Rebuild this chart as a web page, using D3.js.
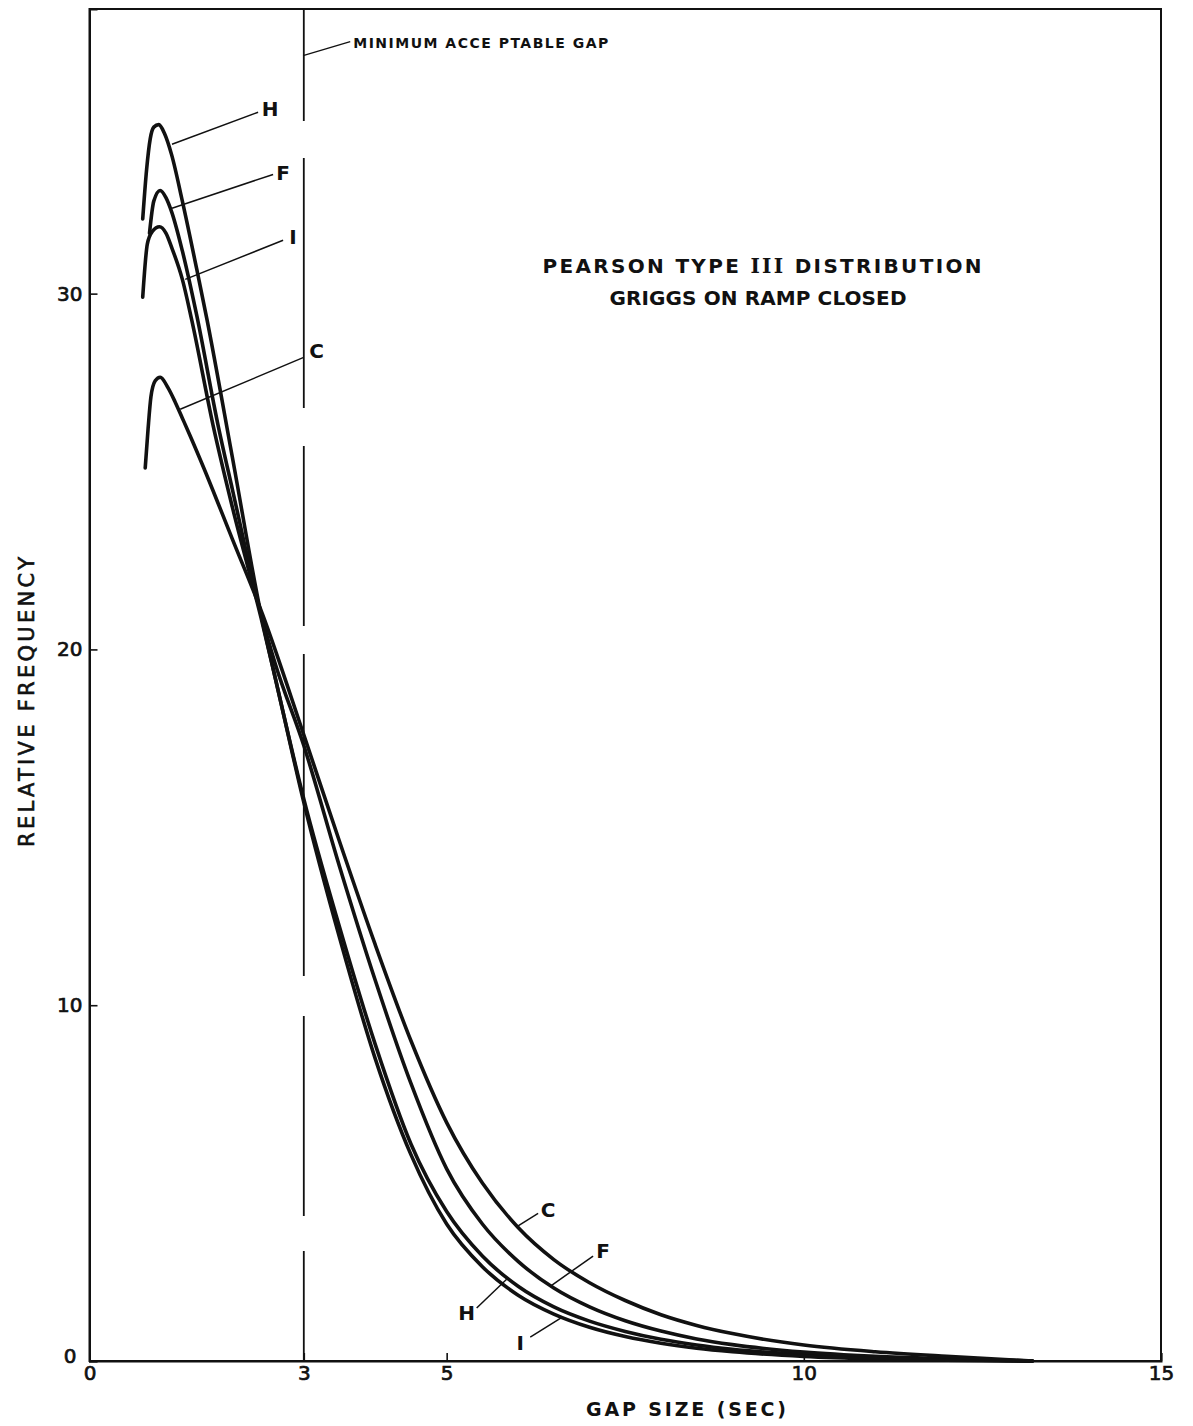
<!DOCTYPE html>
<html>
<head>
<meta charset="utf-8">
<script src="https://cdnjs.cloudflare.com/ajax/libs/d3/7.8.5/d3.min.js"></script>
<style>
  html, body { margin: 0; padding: 0; background: #fff; }
  svg { display: block; }
  text { font-family: "DejaVu Sans", "Liberation Sans", sans-serif; fill: #111; }
</style>
</head>
<body>
<svg id="chart" width="1193" height="1426"></svg>
<script>
// ---------------- data ----------------
const xTicks = [0, 3, 5, 10, 15];
const yTicks = [0, 10, 20, 30];
const minimumGap = 3;

const gapH  = [0.745, 0.8, 0.85, 0.9, 0.97, 1.05, 1.15, 1.3, 1.5, 1.645, 2.0, 2.4, 2.6, 3.0, 3.5, 4.0, 4.5, 5.0, 5.5, 6.0, 6.5, 7.0, 7.5, 8.0, 8.5, 9.0, 10.0, 11.0, 12.0, 13.2];
const freqH = [32.1, 33.5, 34.35, 34.68, 34.75, 34.5, 33.9, 32.6, 30.7, 29.27, 25.4, 21.0, 19.2, 15.8, 12.2, 8.9, 6.1, 4.2, 2.95, 2.1, 1.52, 1.12, 0.83, 0.61, 0.45, 0.33, 0.18, 0.09, 0.04, 0.0];

const gapF  = [0.84, 0.9, 0.99, 1.07, 1.15, 1.3, 1.5, 1.8, 2.0, 2.4, 2.6, 3.0, 3.5, 4.0, 4.5, 5.0, 5.5, 6.0, 6.5, 7.0, 7.5, 8.0, 8.5, 9.0, 10.0, 11.0, 12.0, 13.2];
const freqF = [31.7, 32.6, 32.9, 32.7, 32.3, 31.2, 29.4, 26.3, 24.5, 21.0, 19.6, 17.3, 13.9, 10.7, 7.8, 5.4, 3.85, 2.8, 2.05, 1.52, 1.13, 0.84, 0.62, 0.46, 0.25, 0.13, 0.06, 0.0];

const gapI  = [0.745, 0.81, 0.88, 0.98, 1.07, 1.15, 1.3, 1.43, 1.73, 2.0, 2.4, 2.6, 3.0, 3.5, 4.0, 4.5, 5.0, 5.5, 6.0, 6.5, 7.0, 7.5, 8.0, 8.5, 9.0, 10.0, 11.0, 12.0, 13.2];
const freqI = [29.9, 31.4, 31.75, 31.88, 31.7, 31.3, 30.4, 29.27, 26.3, 24.0, 20.9, 19.2, 15.7, 11.9, 8.5, 5.8, 3.85, 2.65, 1.85, 1.32, 0.95, 0.69, 0.5, 0.36, 0.26, 0.13, 0.06, 0.025, 0.0];

const gapC  = [0.78, 0.82, 0.86, 0.92, 0.99, 1.1, 1.2, 1.3, 1.41, 1.6, 2.0, 2.42, 3.0, 3.5, 4.0, 4.5, 5.0, 5.5, 6.0, 6.5, 7.0, 7.5, 8.0, 8.5, 9.0, 10.0, 11.0, 12.0, 13.2];
const freqC = [25.1, 26.2, 27.1, 27.55, 27.65, 27.35, 26.95, 26.5, 26.0, 25.1, 23.1, 21.0, 17.6, 14.6, 11.7, 9.0, 6.7, 5.0, 3.75, 2.85, 2.2, 1.7, 1.3, 1.0, 0.77, 0.45, 0.26, 0.13, 0.0];

const seriesNames = ["H", "F", "I", "C"];

// leader annotations: [curve x, curve y] -> [end x, end y], label at [x, y] (data units)
const leaderNames = ["H", "F", "I", "C", "C", "F", "H", "I"];
const leaderFrom  = [[1.155, 34.2], [1.155, 32.4], [1.34, 30.4], [1.27, 26.75], [6.0, 3.8], [6.45, 2.1], [5.84, 2.3], [6.63, 1.25]];
const leaderTo    = [[2.36, 35.1], [2.57, 33.35], [2.71, 31.5], [2.99, 28.2], [6.28, 4.15], [7.05, 2.95], [5.42, 1.49], [6.17, 0.67]];
const labelAt     = [[2.53, 35.2], [2.71, 33.4], [2.85, 31.6], [3.18, 28.4], [6.42, 4.25], [7.19, 3.1], [5.28, 1.35], [6.03, 0.5]];

const gapNote = "MINIMUM ACCE PTABLE GAP";
const gapNoteFrom = [2.99, 36.69];
const gapNoteTo = [3.65, 37.08];
const titleLine1 = ["PEARSON TYPE ", "III", " DISTRIBUTION"];
const titleLine2 = "GRIGGS ON RAMP CLOSED";
const xTitle = "GAP SIZE (SEC)";
const yTitle = "RELATIVE FREQUENCY";

// ---------------- drawing ----------------
const svg = d3.select("#chart");
const x = d3.scaleLinear().domain([0, 15]).range([89.5, 1161]);
const y = d3.scaleLinear().domain([0, 38]).range([1361, 9]);

// frame
svg.append("rect")
  .attr("x", x(0)).attr("y", y(38))
  .attr("width", x(15) - x(0)).attr("height", y(0) - y(38))
  .attr("fill", "none").attr("stroke", "#111").attr("stroke-width", 2);

// axes (inward ticks)
const yAxis = svg.append("g").attr("transform", `translate(${x(0)},0)`)
  .call(d3.axisLeft(y).tickValues(yTicks).tickSize(-8).tickPadding(7).tickFormat(d3.format("d")));
const xAxis = svg.append("g").attr("transform", `translate(0,${y(0)})`)
  .call(d3.axisBottom(x).tickValues(xTicks).tickSize(-8).tickPadding(5).tickFormat(d3.format("d")));
[yAxis, xAxis].forEach(g => {
  g.select(".domain").attr("stroke", "#111").attr("stroke-width", 2);
  g.selectAll(".tick line").attr("stroke", "#111").attr("stroke-width", 1.6);
  g.selectAll(".tick text").attr("font-size", 20).attr("font-family", "DejaVu Sans")
    .attr("fill", "#111").attr("stroke", "#111").attr("stroke-width", 0.7);
});
yAxis.selectAll(".tick text").filter(d => d === 0).attr("dy", "0.05em").attr("dx", -6);

// minimum acceptable gap line (long dashes)
svg.append("line")
  .attr("x1", x(minimumGap)).attr("x2", x(minimumGap))
  .attr("y1", y(38)).attr("y2", y(0))
  .attr("stroke", "#111").attr("stroke-width", 1.8)
  .attr("stroke-dasharray", "112 37 250 38 180 28 322 40 200 35 200");

svg.append("line")
  .attr("x1", x(gapNoteFrom[0])).attr("y1", y(gapNoteFrom[1]))
  .attr("x2", x(gapNoteTo[0])).attr("y2", y(gapNoteTo[1]))
  .attr("stroke", "#111").attr("stroke-width", 1.3);
svg.append("text")
  .attr("x", x(gapNoteTo[0]) + 3).attr("y", y(gapNoteTo[1]) + 6)
  .attr("font-size", 14).attr("font-weight", "bold")
  .attr("textLength", 255).attr("lengthAdjust", "spacing")
  .attr("xml:space", "preserve")
  .text(gapNote);

// curves
const series = [
  { name: "H", gap: gapH, freq: freqH },
  { name: "F", gap: gapF, freq: freqF },
  { name: "I", gap: gapI, freq: freqI },
  { name: "C", gap: gapC, freq: freqC }
];
const line = d3.line().x(d => x(d[0])).y(d => y(d[1])).curve(d3.curveMonotoneX);
svg.append("g").selectAll("path").data(series).join("path")
  .attr("d", s => line(s.gap.map((g, i) => [g, s.freq[i]])))
  .attr("fill", "none").attr("stroke", "#111").attr("stroke-width", 3.6)
  .attr("stroke-linecap", "round").attr("stroke-linejoin", "round");

// leaders and labels
const ann = svg.append("g");
leaderNames.forEach((n, i) => {
  ann.append("line")
    .attr("x1", x(leaderFrom[i][0])).attr("y1", y(leaderFrom[i][1]))
    .attr("x2", x(leaderTo[i][0])).attr("y2", y(leaderTo[i][1]))
    .attr("stroke", "#111").attr("stroke-width", 1.5);
  ann.append("text")
    .attr("x", x(labelAt[i][0])).attr("y", y(labelAt[i][1]))
    .attr("dy", "0.36em").attr("text-anchor", "middle")
    .attr("font-size", 20).attr("font-weight", "bold")
    .text(n);
});

// title
const t1 = svg.append("text").attr("x", 762).attr("y", 273).attr("text-anchor", "middle")
  .attr("font-size", 20).attr("font-weight", "bold")
  .attr("textLength", 439).attr("lengthAdjust", "spacing").attr("xml:space", "preserve");
t1.append("tspan").text(titleLine1[0]);
t1.append("tspan").attr("font-family", "DejaVu Serif").text(titleLine1[1]);
t1.append("tspan").text(titleLine1[2]);
svg.append("text").attr("x", 758).attr("y", 305).attr("text-anchor", "middle")
  .attr("font-size", 20).attr("font-weight", "bold")
  .attr("textLength", 297).attr("lengthAdjust", "spacing")
  .text(titleLine2);

// axis titles
svg.append("text").attr("x", 686).attr("y", 1416).attr("text-anchor", "middle")
  .attr("font-size", 19).attr("font-weight", "bold")
  .attr("textLength", 200).attr("lengthAdjust", "spacing")
  .text(xTitle);
svg.append("text").attr("transform", "translate(34,702) rotate(-90)")
  .attr("text-anchor", "middle")
  .attr("font-size", 21).attr("stroke", "#111").attr("stroke-width", 0.6)
  .attr("textLength", 290).attr("lengthAdjust", "spacing")
  .text(yTitle);
</script>
</body>
</html>
